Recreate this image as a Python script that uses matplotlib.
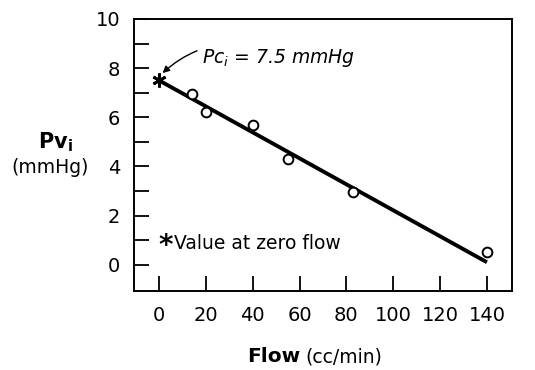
import matplotlib
matplotlib.use("Agg")
import matplotlib.pyplot as plt
import numpy as np

# Data
flow = [14, 20, 40, 55, 83, 140]
pvi = [6.95, 6.2, 5.7, 4.3, 2.95, 0.5]
zero_flow = 0
pc_i = 7.5
fit_x = [0, 140]
fit_y = [7.5, 0.1]
x_ticks = [0, 20, 40, 60, 80, 100, 120, 140]
y_major = [0, 2, 4, 6, 8, 10]
y_minor = [1, 3, 5, 7, 9]

plt.rcParams['font.family'] = ['DejaVu Sans']

fig = plt.figure(figsize=(5.35, 3.70), dpi=100)
ax = fig.add_axes([134/535, 1 - 291/370, (512-134)/535, (291-19)/370])

ax.plot(fit_x, fit_y, color='black', lw=2.8, solid_capstyle='butt', zorder=2)
ax.plot(flow, pvi, 'o', mfc='white', mec='black', ms=7, mew=1.4, zorder=3)
ax.plot([zero_flow], [pc_i], marker=(6, 2, 0), color='black', ms=10, mew=2.0, zorder=4)

ax.set_xlim(-10.7, 150.7)
ax.set_ylim(-1.07, 10)

ax.set_xticks(x_ticks)
ax.set_xticklabels([str(v) for v in x_ticks])
ax.set_yticks(y_major)
ax.set_yticklabels([str(v) for v in y_major])
ax.set_yticks(y_minor, minor=True)
ax.tick_params(axis='both', which='both', direction='in', length=11, width=1.3,
               labelsize=14, color='black')
ax.tick_params(axis='x', pad=11)
ax.tick_params(axis='y', pad=10)
for s in ax.spines.values():
    s.set_linewidth(1.4)

# Annotation
ax.annotate(r'$\mathit{Pc_i}$ = 7.5 mmHg', xy=(zero_flow + 1.5, pc_i + 0.3),
            xytext=(18.5, 8.4), fontsize=13.5, style='italic', va='center', ha='left',
            arrowprops=dict(arrowstyle='-|>', color='black', lw=1.0,
                            connectionstyle='arc3,rad=0.35', mutation_scale=10,
                            shrinkA=2, shrinkB=0))

ax.text(0.085, 0.165, '*', transform=ax.transAxes, fontsize=20, fontweight='bold',
        ha='center', va='center')
ax.text(0.105, 0.176, 'Value at zero flow', transform=ax.transAxes, fontsize=13.5,
        ha='left', va='center')

fig.text(55/535, 1 - 142/370, r'Pv$_\mathbf{i}$', fontsize=15, fontweight='bold',
         ha='center', va='center')
fig.text(50/535, 1 - 167/370, '(mmHg)', fontsize=13.5, ha='center', va='center')

fig.text(300/535, 1 - 357/370, 'Flow', fontsize=14.5, fontweight='bold',
         ha='right', va='center')
fig.text(305/535, 1 - 357/370, '(cc/min)', fontsize=13.5, ha='left', va='center')

fig.savefig('out.png', dpi=100)
